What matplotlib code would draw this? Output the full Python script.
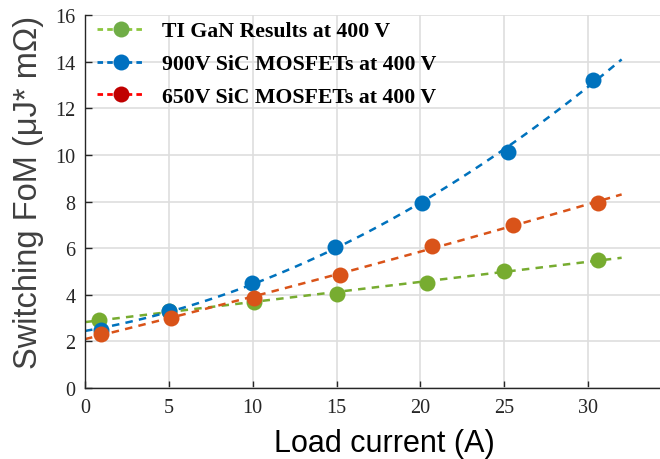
import numpy as np
import matplotlib
matplotlib.use("Agg")
import matplotlib.pyplot as plt
from matplotlib.lines import Line2D

# Measured points (load current in A, switching FoM in uJ*mOhm)
gan_current = [0.85, 5.0, 10.1, 15.0, 20.4, 25.0, 30.6]
gan_fom = [2.93, 3.3, 3.68, 4.05, 4.51, 5.03, 5.51]

sic900_current = [0.94, 5.0, 9.96, 14.9, 20.1, 25.2, 30.3]
sic900_fom = [2.49, 3.32, 4.51, 6.06, 7.94, 10.14, 13.23]

sic650_current = [0.94, 5.15, 10.1, 15.2, 20.7, 25.5, 30.6]
sic650_fom = [2.32, 3.0, 3.86, 4.85, 6.11, 7.01, 7.94]

legend_labels = [
    "TI GaN Results at 400 V",
    "900V SiC MOSFETs at 400 V",
    "650V SiC MOSFETs at 400 V",
]

GREEN = "#77AC30"
BLUE = "#0072BD"
ORANGE = "#D95319"

W, H = 660, 460
fig = plt.figure(figsize=(6.6, 4.6), dpi=100)
ax = fig.add_axes([85 / W, 1 - 389 / H, 1 - 85 / W, (389 - 16) / H])

fit_x = np.linspace(0, 32, 100)
series = [
    (gan_current, gan_fom, GREEN, 1),
    (sic900_current, sic900_fom, BLUE, 2),
    (sic650_current, sic650_fom, ORANGE, 2),
]
for xs, ys, color, deg in series:
    coeffs = np.polyfit(xs, ys, deg)
    ax.plot(fit_x, np.polyval(coeffs, fit_x), linestyle=(0, (3, 2.5)),
            color=color, linewidth=1.8, zorder=2)
    ax.plot(xs, ys, "o", color=color, markersize=11.5, markeredgewidth=0,
            zorder=3)

ax.set_xlim(0, (W - 85) / 16.77)
ax.set_ylim(0, 16)
ax.set_xticks(range(0, 31, 5))
ax.set_yticks(range(0, 17, 2))

ax.grid(True, color="#dedede", linewidth=1.2)
ax.set_axisbelow(True)
for side in ["top", "right"]:
    ax.spines[side].set_visible(False)
for side in ["left", "bottom"]:
    ax.spines[side].set_color("#262626")
    ax.spines[side].set_linewidth(1.0)

ax.tick_params(direction="in", length=5, width=1, color="#262626",
               labelsize=14.5, pad=7)
for lbl in ax.get_xticklabels() + ax.get_yticklabels():
    lbl.set_fontfamily("Liberation Serif")
    lbl.set_color("#262626")

# axis titles placed in pixel positions
fig.text(384.5 / W, 1 - 444 / H, "Load current (A)", fontsize=22,
         family="Liberation Sans", color="black", ha="center", va="center")
fig.text(28.5 / W, 1 - 192.5 / H, "Switching FoM (\u03bcJ* m\u03a9)",
         fontsize=23.5, family="Liberation Sans", color="#404040",
         rotation=90, ha="center", va="center")

# legend uses its own (Excel-like) colours
handles = [
    Line2D([], [], linestyle=(0, (2, 1.5)), color="#8CC63F", linewidth=2,
           marker="o", markersize=11.5, markerfacecolor="#70AD47",
           markeredgewidth=0),
    Line2D([], [], linestyle=(0, (2, 1.5)), color="#0070C0", linewidth=2,
           marker="o", markersize=11.5, markerfacecolor="#0070C0",
           markeredgewidth=0),
    Line2D([], [], linestyle=(0, (2, 1.5)), color="#FF0000", linewidth=2,
           marker="o", markersize=11.5, markerfacecolor="#C00000",
           markeredgewidth=0),
]
ax.legend(handles, legend_labels, loc="upper left", frameon=False,
          prop={"family": "Liberation Serif", "weight": "bold", "size": 15.7},
          handlelength=2.2, handletextpad=0.78, labelspacing=0.58,
          borderaxespad=0.0, borderpad=0.0,
          bbox_to_anchor=(12 / (W - 85), 1 - 6 / 373))

fig.savefig("out.png", dpi=100)
